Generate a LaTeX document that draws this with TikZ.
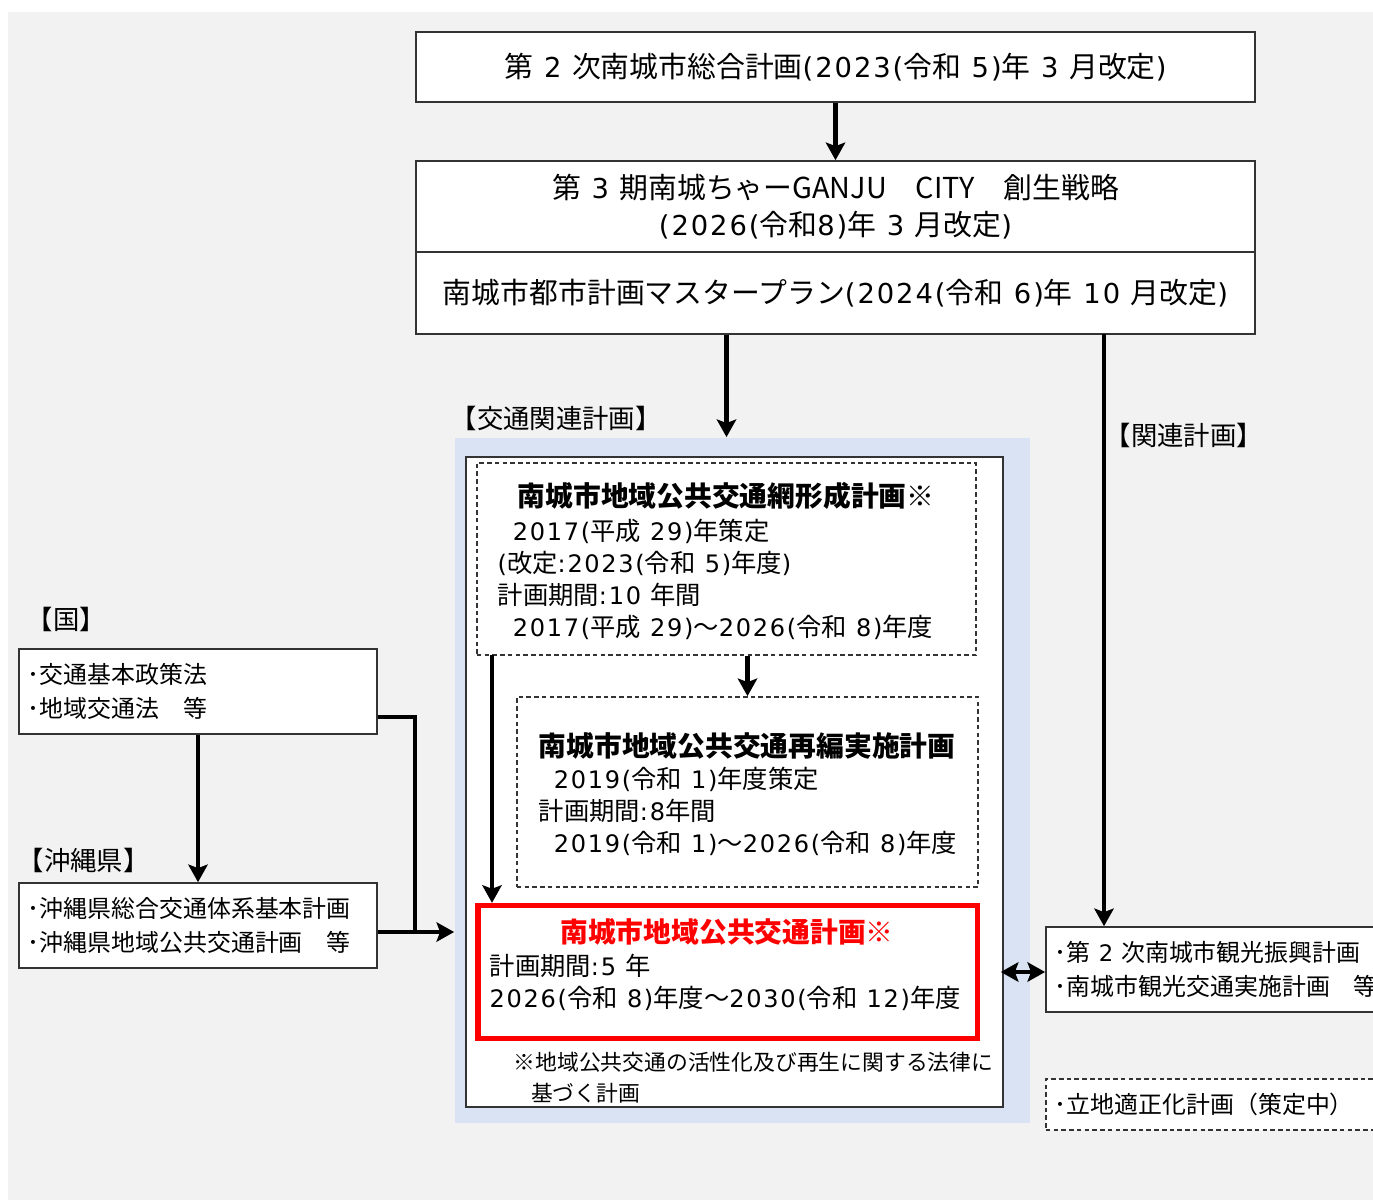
\documentclass[tikz,border=0pt]{standalone}
\usepackage{fontspec}
\setmainfont{Noto Sans CJK JP}
\newfontfamily\latn{DejaVu Sans}[Scale=0.95,LetterSpace=7]
\usetikzlibrary{arrows.meta}
\definecolor{bggray}{HTML}{F2F2F2}
\definecolor{bgblue}{HTML}{DAE3F3}
\newcommand{\nm}[1]{{\latn#1}}
\newcommand{\fsL}{\fontsize{8.2}{10.5}\selectfont}
\newcommand{\fsT}{\fontsize{7.9}{9.1}\selectfont}
\newcommand{\fsM}{\fontsize{7.2}{9.1}\selectfont}
\newcommand{\fsS}{\fontsize{6.8}{9.7}\selectfont}
\newcommand{\fsXS}{\fontsize{6.2}{8.8}\selectfont}

\begin{document}
\begin{tikzpicture}
	[x=0.01cm,y=-0.01cm,
	box/.style={draw=black!80,fill=white,line width=0.45pt,inner sep=0pt},
	dbox/.style={box,dash pattern=on 1.3pt off 0.9pt},
	txt/.style={inner sep=0pt,anchor=west,align=left},
	lbl/.style={txt,font=\fontsize{7.5}{9}\selectfont},
	arr/.style={line width=1.2pt,-{Stealth[length=5pt,width=5.5pt,inset=1pt]}}]
    \useasboundingbox (0,0) rectangle (1373,1200);
    \fill[white] (0,0) rectangle (1373,1200);
    \fill[bggray] (8,12) rectangle (1373,1200);
    % upper plans
    \node[box,minimum width=8.39cm,minimum height=0.70cm,font=\fsL] (plan2) at (835.5,67) {第\nm{ 2 }次南城市総合計画\nm{(2023(}令和\nm{ 5)}年\nm{ 3 }月改定\nm{)}};
    \node[box,minimum width=8.39cm,minimum height=0.92cm,font=\fsL,align=center] (strat) at (835.5,207) {第\nm{ 3 }期南城ちゃーGANJU　CITY　創生戦略\\\nm{(2026(}令和\nm{8)}年\nm{ 3 }月改定\nm{)}};
    \node[box,minimum width=8.39cm,minimum height=0.82cm,font=\fsL] (master) at (835.5,293) {南城市都市計画マスタープラン\nm{(2024(}令和\nm{ 6)}年\nm{ 10 }月改定\nm{)}};
    % transport plans
    \node[fill=bgblue,minimum width=5.75cm,minimum height=6.85cm,inner sep=0pt] (bg) at (742.5,780.5) {};
    \node[box,minimum width=5.37cm,minimum height=6.50cm] (wb) at (734.5,782) {};
    \node[dbox,minimum width=4.99cm,minimum height=1.92cm] (net) at (726.5,559) {};
    \node[dbox,minimum width=4.61cm,minimum height=1.90cm] (reorg) at (747.5,792) {};
    \node[box,draw=red,line width=1.5pt,minimum width=4.99cm,minimum height=1.33cm] (local) at (727.5,972) {};
    \node[txt,font=\fsT\bfseries] (nett) at (517,496) {南城市地域公共交通網形成計画※};
    \node[txt,font=\fsM] (netb) at (497,579) {\hspace*{0.6em}\nm{2017(}平成\nm{ 29)}年策定\\\nm{(}改定\nm{:2023(}令和\nm{ 5)}年度\nm{)}\\計画期間\nm{:10 }年間\\\hspace*{0.6em}\nm{2017(}平成\nm{ 29)}～\nm{2026(}令和\nm{ 8)}年度};
    \node[txt,font=\fsT\bfseries] (reorgt) at (538,746) {南城市地域公共交通再編実施計画};
    \node[txt,font=\fsM] (reorgb) at (538,811) {\hspace*{0.6em}\nm{2019(}令和\nm{ 1)}年度策定\\計画期間\nm{:8}年間\\\hspace*{0.6em}\nm{2019(}令和\nm{ 1)}～\nm{2026(}令和\nm{ 8)}年度};
    \node[inner sep=0pt,font=\fsT\bfseries,text=red] (localt) at (727,932) {南城市地域公共交通計画※};
    \node[txt,font=\fsM] (localb) at (489,982) {計画期間\nm{:5 }年\\\nm{2026(}令和\nm{ 8)}年度～\nm{2030(}令和\nm{ 12)}年度};
    \node[txt,font=\fsXS] (note) at (513,1078) {※地域公共交通の活性化及び再生に関する法律に\\\hspace*{0.8em}基づく計画};
    \node[lbl] (lbl1) at (450,418) {【交通関連計画】};
    \node[lbl] (lbl2) at (1104,435) {【関連計画】};
    % national / prefecture
    \node[lbl] (lbl3) at (26,619) {【国】};
    \node[lbl] (lbl4) at (17,860) {【沖縄県】};
    \node[box,minimum width=3.58cm,minimum height=0.85cm,text width=3.40cm,align=left,font=\fsS] (kuni) at (198,691.5) {･交通基本政策法\\･地域交通法　等};
    \node[box,minimum width=3.58cm,minimum height=0.85cm,text width=3.40cm,align=left,font=\fsS] (pref) at (198,925.5) {･沖縄県総合交通体系基本計画\\･沖縄県地域公共交通計画　等};
    % related plans
    \node[box,minimum width=3.39cm,minimum height=0.85cm,text width=3.21cm,align=left,font=\fsS] (kanko) at (1215.5,969.5) {･第\nm{ 2 }次南城市観光振興計画\\･南城市観光交通実施計画　等};
    \node[dbox,minimum width=3.39cm,minimum height=0.51cm,text width=3.21cm,align=left,font=\fsS] (ricchi) at (1215.5,1104.5) {･立地適正化計画（策定中）};
    % connectors
    \coordinate (rl) at (1104,334);
    \coordinate (nl) at (492,655);
    \coordinate (j) at (415,932);
    \draw[arr] (plan2) -- (strat);
    \draw[arr] (master.south -| net) -- (bg.north -| net);
    \draw[arr] (rl) -- (rl |- kanko.north);
    \draw[arr] (net.south -| reorg) -- (reorg);
    \draw[arr] (nl) -- (nl |- local.north);
    \draw[arr] (kuni) -- (pref);
    \draw[line width=1.2pt] ([yshift=-0.255cm]kuni.east) -| (j);
    \draw[arr] ([yshift=-0.065cm]pref.east) -- ([yshift=-0.065cm]pref.east -| bg.west);
    \draw[arr,{Stealth[length=5pt,width=5.5pt,inset=1pt]}-{Stealth[length=5pt,width=5.5pt,inset=1pt]}] ([xshift=0.21cm]local.east) -- (local.east -| kanko.west);
\end{tikzpicture}
\end{document}
